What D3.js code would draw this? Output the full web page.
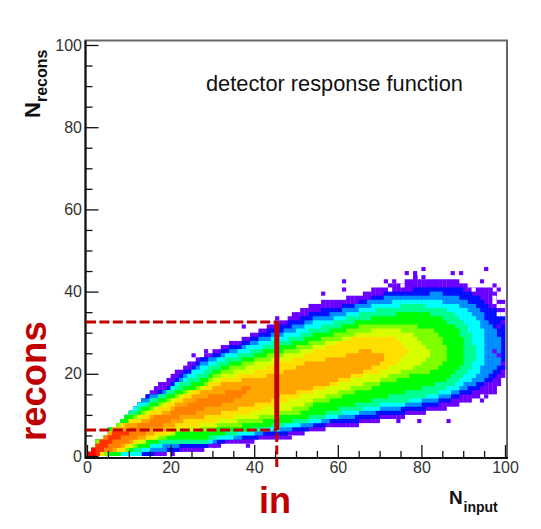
<!DOCTYPE html>
<html>
<head>
<meta charset="utf-8">
<script src="https://cdn.jsdelivr.net/npm/d3@7"></script>
<style>
  html, body { margin: 0; padding: 0; background: #fff; }
  text { font-family: "Liberation Sans", Arial, sans-serif; }
</style>
</head>
<body>
<div id="main"></div>
<script>
// histogram: for each colour level, the lowest and highest
// filled bin per input column (bins are 1 wide)
const violetTop = [1,2,4,4,5,7,7,8,9,10,11,12,13,14,15,16,17,18,18,19,20,21,21,22,23,23,24,24,25,25,26,26,27,27,28,28,28,29,29,30,30,31,31,32,32,33,33,33,34,35,35,36,36,37,37,37,38,38,38,38,38,38,39,39,39,39,40,40,41,41,41,41,42,42,42,42,43,43,44,43,43,43,43,43,43,43,43,43,43,42,42,41,41,41,41,41,41,40,38,38];
const violetBot = [0,0,0,0,0,0,0,0,0,0,0,0,0,0,0,0,0,0,0,1,1,1,1,1,1,1,1,1,2,2,2,2,3,3,3,3,3,3,3,3,4,4,4,4,4,4,4,4,5,5,5,5,6,6,6,6,6,7,7,7,7,7,7,7,7,8,8,8,8,8,9,9,9,9,9,9,10,10,10,10,10,11,11,11,11,11,12,12,12,13,13,13,14,14,15,15,15,15,17,19];
const blueTop = [1,2,4,4,5,7,7,8,9,10,11,12,13,14,15,15,15,16,16,17,18,19,20,21,21,22,23,24,24,24,25,25,26,26,27,27,27,28,28,29,29,30,30,31,31,31,32,32,33,33,33,34,34,35,35,35,36,36,36,36,36,37,37,37,37,38,38,38,39,39,39,40,40,40,40,40,40,40,41,41,41,41,41,41,41,41,41,41,41,41,40,40,39,39,38,37,36,36,35,34];
const blueBot = [0,0,0,0,0,0,0,0,0,0,0,0,0,0,0,0,1,1,1,1,1,1,2,2,2,2,2,2,2,3,3,3,3,4,4,4,4,4,4,4,4,5,5,5,5,5,5,5,6,6,6,6,6,7,7,7,7,8,8,8,8,8,8,8,8,9,9,9,9,9,10,10,10,10,10,10,11,11,11,11,11,12,12,12,13,13,13,14,14,15,15,15,16,16,17,18,18,19,20,21];
const azureTop = [1,2,4,4,5,7,7,8,9,10,11,12,13,14,14,15,15,15,16,16,17,18,19,20,20,21,22,23,23,24,24,24,25,25,26,26,26,27,27,28,28,29,29,29,30,30,30,31,31,32,32,32,33,33,34,34,34,34,35,35,35,36,36,36,37,37,37,38,38,38,38,39,39,39,39,39,39,39,39,39,39,39,40,40,40,39,39,39,39,38,38,37,37,36,35,33,32,31,29];
const azureBot = [0,0,0,0,0,0,0,0,0,0,0,0,0,1,1,1,1,1,1,2,2,2,3,3,3,3,3,3,3,3,3,4,4,4,4,4,4,5,5,5,5,5,6,6,6,6,6,6,6,7,7,7,7,7,8,8,8,8,9,9,9,9,9,9,10,10,10,10,10,11,11,11,11,11,11,12,12,12,12,12,13,13,13,13,14,14,14,15,15,16,16,17,17,18,18,19,20,21,22];
const cyanTop = [1,2,4,4,5,7,7,8,9,10,11,12,13,13,13,14,14,15,15,16,17,18,18,19,20,21,21,22,22,23,23,24,24,25,25,25,26,26,27,27,27,28,28,28,29,29,29,30,30,30,31,31,32,32,33,33,33,33,33,34,34,34,35,35,35,36,36,36,37,37,37,37,37,38,38,38,38,38,38,38,38,38,38,38,38,37,37,37,37,36,36,35,34,33,31];
const cyanBot = [0,0,0,0,0,0,0,0,0,0,0,0,0,1,1,2,2,2,3,3,3,3,3,3,3,3,3,3,3,3,4,4,4,4,4,5,5,5,5,5,6,6,6,6,6,6,7,7,7,7,7,8,8,8,8,8,9,9,9,9,10,10,10,10,10,11,11,11,11,11,12,12,12,12,12,12,13,13,13,13,14,14,14,14,15,15,15,16,16,17,18,18,19,20,22];
const springTop = [1,2,4,4,5,7,7,8,9,10,11,11,12,12,13,14,14,15,15,16,16,17,18,18,19,19,20,20,21,22,22,23,23,24,24,24,25,25,25,26,26,26,27,27,28,28,28,28,29,29,29,30,30,31,31,31,32,32,32,33,33,33,34,34,34,35,35,35,35,36,36,36,36,36,36,37,37,37,37,37,37,36,36,36,36,36,35,35,34,33,32,30,27];
const springBot = [0,0,0,0,0,0,0,0,1,1,1,1,1,2,2,3,3,3,3,3,3,3,3,3,3,3,3,3,3,4,4,5,5,5,5,5,6,6,6,6,6,6,7,7,7,7,7,8,8,8,8,8,8,9,9,9,9,10,10,10,10,11,11,11,11,11,12,12,12,12,13,13,13,13,13,13,13,14,14,14,14,15,15,15,16,16,17,17,18,19,20,21,23];
const greenTop = [1,2,4,4,5,7,7,8,9,10,10,10,11,12,12,13,13,14,14,15,15,16,16,17,17,18,18,19,19,20,21,21,22,22,23,23,23,24,24,24,25,25,26,26,26,26,27,27,27,28,28,28,29,29,30,30,30,30,31,31,31,32,32,32,33,33,33,33,34,34,34,34,34,34,35,35,35,35,35,35,35,35,34,34,34,33,32,32,31,29];
const greenBot = [0,0,0,0,0,0,0,0,1,1,1,2,2,2,2,3,3,4,4,4,4,4,4,4,4,4,4,4,4,5,5,5,5,6,6,6,6,6,6,7,7,7,7,7,8,8,8,8,8,9,9,9,9,10,10,10,10,11,11,11,12,12,12,12,13,13,13,13,14,14,14,14,15,15,15,15,16,16,16,16,17,17,17,18,18,18,19,20,21,22];
const limeTop = [1,2,4,4,5,6,7,8,8,8,9,10,10,11,11,12,12,13,13,14,14,15,15,16,16,16,17,17,18,19,20,20,21,21,22,22,22,23,23,23,24,24,24,25,25,25,25,26,26,26,27,27,27,28,28,28,29,29,29,30,30,30,31,31,31,32,32,32,32,32,32,32,32,32,32,32,32,32,32,31,31,31,31,30,29,27];
const limeBot = [0,0,0,0,0,1,1,1,1,1,2,2,3,3,4,4,4,4,4,5,5,6,6,6,6,6,6,6,6,6,6,7,7,7,7,7,7,8,8,8,8,8,9,9,9,9,10,10,10,10,10,11,11,12,13,13,13,13,14,14,14,15,15,15,16,16,16,16,17,17,18,18,18,18,19,19,19,20,20,20,20,20,21,21,22,23];
const lemonTop = [1,2,3,4,5,6,7,7,8,8,9,9,10,10,11,11,12,12,13,13,14,14,15,15,16,16,16,17,17,18,19,19,20,20,20,21,21,21,22,22,23,23,23,23,24,24,24,25,25,25,25,26,26,26,27,27,27,28,28,28,28,29,29,29,30,30,30,30,31,31,31,31,31,31,31,30,30,30,29,28,27,26,25];
const lemonBot = [0,0,0,0,1,1,1,1,1,2,2,3,3,3,4,4,4,5,5,5,5,6,6,6,6,6,6,7,7,7,7,8,8,8,8,8,9,9,9,9,9,10,10,10,10,10,11,11,11,12,12,12,13,13,14,14,14,15,15,15,16,16,16,17,17,17,18,18,18,18,19,19,20,20,20,21,21,21,22,22,23,24,25];
const yellowTop = [1,2,3,4,5,6,7,7,8,8,9,9,9,10,10,11,11,12,12,13,13,14,14,15,15,16,16,16,17,18,18,18,19,19,19,19,20,20,20,20,21,21,21,22,22,22,23,23,23,24,24,24,25,25,26,26,26,27,27,27,28,28,28,29,29,29,29,29,29,29,29,29,29,29,28,27,26];
const yellowBot = [0,0,0,0,1,1,1,1,1,2,3,3,4,4,4,4,5,5,5,6,6,7,7,7,7,7,7,8,8,8,8,9,9,9,9,10,10,10,10,11,11,11,12,12,12,12,13,13,14,14,14,15,15,15,16,16,16,17,17,17,18,18,18,19,19,19,20,20,20,20,21,21,22,22,23,24,25];
const orangeTop = [1,1,3,4,5,6,7,7,7,8,8,8,8,9,9,10,10,10,11,11,12,13,13,14,14,15,15,16,16,16,17,17,18,18,18,18,18,19,19,19,19,19,19,20,20,20,20,21,21,21,22,22,23,23,23,23,23,24,24,24,24,24,25,25,25,26,26,26,25,25,25];
const orangeBot = [0,0,0,1,1,1,1,2,2,3,3,4,4,4,5,5,6,6,6,7,7,8,8,9,9,9,9,9,10,10,10,10,11,11,11,11,12,12,12,12,13,13,13,13,14,14,15,15,15,15,16,16,16,16,17,17,17,17,18,18,19,19,19,20,20,20,21,21,22,22,23];
const amberTop = [1,2,3,4,5,5,6,6,6,6,7,7,8,8,8,9,10,10,10,10,11,12,12,12,13,13,14,14,14,15,15,15,15,16,16,16,16,17,17];
const amberBot = [0,0,0,1,1,1,2,2,3,3,4,4,5,5,6,7,7,7,8,8,9,9,10,10,10,10,11,11,12,12,12,12,13,13,13,14,14,15,16];
const scarletTop = [1,2,3,4,4,5,6,6,6,6];
const scarletBot = [0,0,0,1,2,3,4,4,5,5];
const redTop = [1,2];
const redBot = [0,0];

const levelTops = [violetTop, blueTop, azureTop, cyanTop, springTop, greenTop, limeTop, lemonTop, yellowTop, orangeTop, amberTop, scarletTop, redTop];
const levelBots = [violetBot, blueBot, azureBot, cyanBot, springBot, greenBot, limeBot, lemonBot, yellowBot, orangeBot, amberBot, scarletBot, redBot];
const levelColors = ["#6a00ff", "#0010ff", "#0090ff", "#00ffff", "#00ff90", "#00ff00", "#80ff00", "#d8ff00", "#ffdf00", "#ffa500", "#ff7f00", "#ff3300", "#ff0000"];

// single-count bins outside the main blob, and speckle along the right edge
const strayX = [61,61,56,80,95,76,87,89,94,71,73,97,98,78,78,80,79,86,48,74,94,95,25,28,38,30,37,45,20,99,99,98,97,99,98];
const strayY = [42,40,39,45,45,44,44,44,42,42,42,41,40,44,43,43,8,8,4,8,13,14,24,25,2,2,31,33,0,20,22,24,25,32,31];
// empty bins inside the fringe
const holeX = [99,98,99,98,97,97,72,75,92];
const holeY = [36,36,34,34,38,37,40,41,40];

const tickMajor = [0, 20, 40, 60, 80, 100];
const tickMinor = [5, 10, 15, 25, 30, 35, 45, 50, 55, 65, 70, 75, 85, 90, 95];

const inputCut = 45.4;
const reconsLow = 6.3;
const reconsHigh = 32.6;

const W = 541, H = 529;
const svg = d3.select("#main").append("svg").attr("width", W).attr("height", H);

const x = d3.scaleLinear().domain([0, 100]).range([87, 505]);
const y = d3.scaleLinear().domain([0, 100]).range([456, 45]);
const frame = { left: 85.5, right: 507, top: 40.5, bottom: 458 };
const dark = "#c00000";

// histogram, painted from lowest level up
levelTops.forEach((tops, lvl) => {
    const bots = levelBots[lvl];
    svg.append("g").selectAll("rect")
        .data(tops.map((t, i) => ({ i, t, b: bots[i] })).filter(d => d.t > d.b))
        .enter().append("rect")
        .attr("x", d => x(d.i))
        .attr("width", d => x(d.i + 1) - x(d.i) + 0.3)
        .attr("y", d => y(d.t))
        .attr("height", d => y(d.b) - y(d.t))
        .attr("fill", levelColors[lvl]);
});

function drawBins(xs, ys, color) {
    svg.append("g").selectAll("rect")
        .data(xs.map((v, i) => [v, ys[i]]))
        .enter().append("rect")
        .attr("x", d => x(d[0]))
        .attr("y", d => y(d[1] + 1))
        .attr("width", x(1) - x(0))
        .attr("height", y(0) - y(1))
        .attr("fill", color);
}
drawBins(strayX, strayY, levelColors[0]);
drawBins(holeX, holeY, "#fff");

// frame
svg.append("path")
    .attr("d", `M${frame.left},${frame.bottom}V${frame.top}H${frame.right}V${frame.bottom}`)
    .attr("fill", "none").attr("stroke", "#666").attr("stroke-width", 2);

function styleAxis(g) {
    g.selectAll("path.domain").remove();
    g.selectAll("line").attr("stroke", "#111").attr("stroke-width", 1.3);
    g.selectAll("text").attr("fill", "#333").style("font-size", "16px").style("font-family", '"Liberation Sans", Arial, sans-serif');
}

const gx = svg.append("g").attr("transform", `translate(0,${frame.bottom})`);
gx.call(d3.axisBottom(x).tickValues(tickMajor).tickSize(-13).tickPadding(8));
gx.selectAll("text").attr("y", 15).attr("dy", 0);
styleAxis(gx);
const gxMinor = svg.append("g").attr("transform", `translate(0,${frame.bottom})`);
gxMinor.call(d3.axisBottom(x).tickValues(tickMinor).tickSize(-7).tickFormat(""));
styleAxis(gxMinor);

const gy = svg.append("g").attr("transform", `translate(${frame.left},0)`);
gy.call(d3.axisLeft(y).tickValues(tickMajor).tickSize(-13).tickPadding(3));
gy.selectAll("text").attr("x", -3.5);
styleAxis(gy);
const gyMinor = svg.append("g").attr("transform", `translate(${frame.left},0)`);
gyMinor.call(d3.axisLeft(y).tickValues(tickMinor).tickSize(-7).tickFormat(""));
styleAxis(gyMinor);

svg.append("line")
    .attr("x1", frame.left).attr("x2", frame.left)
    .attr("y1", frame.top).attr("y2", frame.bottom + 1)
    .attr("stroke", "#111").attr("stroke-width", 2);
svg.append("line")
    .attr("x1", frame.left).attr("x2", frame.right + 1)
    .attr("y1", frame.bottom).attr("y2", frame.bottom)
    .attr("stroke", "#111").attr("stroke-width", 2);

// red selection lines
svg.append("line")
    .attr("x1", x(0) - 1).attr("x2", x(inputCut))
    .attr("y1", y(reconsHigh)).attr("y2", y(reconsHigh))
    .attr("stroke", dark).attr("stroke-width", 3).attr("stroke-dasharray", "10,3.4");
svg.append("line")
    .attr("x1", x(0) - 1).attr("x2", x(inputCut))
    .attr("y1", y(reconsLow)).attr("y2", y(reconsLow))
    .attr("stroke", dark).attr("stroke-width", 3).attr("stroke-dasharray", "10,3.4");
svg.append("line")
    .attr("x1", x(inputCut)).attr("x2", x(inputCut))
    .attr("y1", y(reconsHigh) - 1).attr("y2", y(reconsLow))
    .attr("stroke", dark).attr("stroke-width", 5);
svg.append("line")
    .attr("x1", x(inputCut)).attr("x2", x(inputCut))
    .attr("y1", y(reconsLow) + 3).attr("y2", 468)
    .attr("stroke", dark).attr("stroke-width", 3).attr("stroke-dasharray", "9,3.5");

// texts
svg.append("text").attr("x", 206).attr("y", 91)
    .style("font-size", "21.8px").attr("fill", "#111")
    .text("detector response function");

svg.append("text").attr("x", 259).attr("y", 513)
    .style("font-size", "36px").style("font-weight", "bold").attr("fill", dark)
    .text("in");
svg.append("text")
    .attr("transform", "translate(46,441) rotate(-90)")
    .style("font-size", "36.5px").style("font-weight", "bold").attr("fill", dark)
    .text("recons");

svg.append("text").attr("x", 449).attr("y", 504)
    .style("font-size", "19px").style("font-weight", "bold").attr("fill", "#111").text("N");
svg.append("text").attr("x", 463.5).attr("y", 512)
    .style("font-size", "14px").style("font-weight", "bold").attr("fill", "#111").text("input");

svg.append("text")
    .attr("transform", "translate(40,118) rotate(-90)")
    .style("font-size", "22px").style("font-weight", "bold").attr("fill", "#111").text("N");
svg.append("text")
    .attr("transform", "translate(46.5,102) rotate(-90)")
    .style("font-size", "16px").style("font-weight", "bold").attr("fill", "#111").text("recons");
</script>
</body>
</html>
